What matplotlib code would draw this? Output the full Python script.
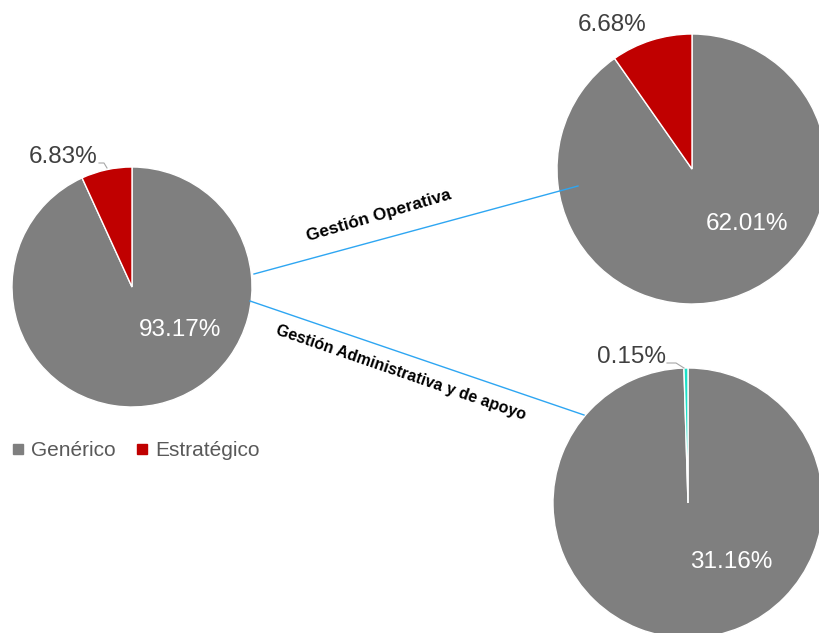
import numpy as np
import matplotlib
matplotlib.use('Agg')
import matplotlib.pyplot as plt
from matplotlib.lines import Line2D

plt.rcParams['font.family'] = ['Liberation Sans', 'DejaVu Sans']

# data (percent of total)
categories = ['Genérico', 'Estratégico']
branches = ['Gestión Operativa', 'Gestión Administrativa y de apoyo']
generico = [93.17, 62.01, 31.16]
estrategico = [6.83, 6.68, 0.15]
small_colors = ['#C00000', '#C00000', '#1CE0C8']

GRAY = '#7F7F7F'
RED = '#C00000'
W, H = 819, 633

def fx(x):
    return x / W

def fy(y):
    return 1 - y / H

# pie centres and radii in pixels (top-left origin)
pies = [(132, 287, 120), (692, 169, 135), (688, 503, 135)]
# label offsets in radius units: outer (small slice) and inner (big slice)
outer_pos = [(-0.575, 1.085), (-0.59, 1.07), (-0.42, 1.08)]
inner_pos = [(0.40, -0.36), (0.41, -0.41), (0.32, -0.44)]

fig = plt.figure(figsize=(8.19, 6.33), dpi=100)

for i, (cx, cy, r) in enumerate(pies):
    ax = fig.add_axes([fx(cx - r), fy(cy + r), 2 * r / W, 2 * r / H])
    wedges, _ = ax.pie([generico[i], estrategico[i]], colors=[GRAY, small_colors[i]],
                       startangle=90, counterclock=False, radius=1,
                       wedgeprops=dict(edgecolor='white', linewidth=1))
    for w in wedges:
        w.set_clip_on(False)
    ax.set_xlim(-1, 1)
    ax.set_ylim(-1, 1)
    ax.axis('off')
    ox, oy = outer_pos[i]
    ax.text(ox, oy, f'{estrategico[i]:.2f}%', ha='center', va='center',
            fontsize=17.5, color='#404040', clip_on=False)
    ix, iy = inner_pos[i]
    ax.text(ix, iy, f'{generico[i]:.2f}%', ha='center', va='center',
            fontsize=17.5, color='white')

# leader lines for the small slices
leaders = [[(99, 163), (104, 163), (107, 168)], [(667, 363), (676, 363), (684, 368)]]
for pts in leaders:
    xs = [fx(p[0]) for p in pts]
    ys = [fy(p[1]) for p in pts]
    fig.add_artist(Line2D(xs, ys, color='#A6A6A6', lw=0.8, transform=fig.transFigure))

# connectors
connectors = [((254, 274), (578, 186)), ((250, 301), (584, 415))]
for (x0, y0), (x1, y1) in connectors:
    fig.add_artist(Line2D([fx(x0), fx(x1)], [fy(y0), fy(y1)], color='#2EA6F2', lw=1.0,
                          transform=fig.transFigure, zorder=5))

fig.text(fx(379), fy(216), branches[0], rotation=16.4, rotation_mode='anchor',
         ha='center', va='center', fontsize=12.5, fontweight='bold', color='black')
fig.text(fx(401), fy(373), branches[1], rotation=-19, rotation_mode='anchor',
         ha='center', va='center', fontsize=11.5, fontweight='bold', color='black')

handles = [Line2D([], [], marker='s', linestyle='', color=c, markersize=6.5)
           for c in [GRAY, RED]]
fig.legend(handles, categories, loc='center left', bbox_to_anchor=(fx(2), fy(451)),
           frameon=False, ncol=2, fontsize=15, labelcolor='#595959',
           handlelength=0.7, handletextpad=0.3, columnspacing=0.9, borderaxespad=0)

fig.savefig('out.png', dpi=100)
